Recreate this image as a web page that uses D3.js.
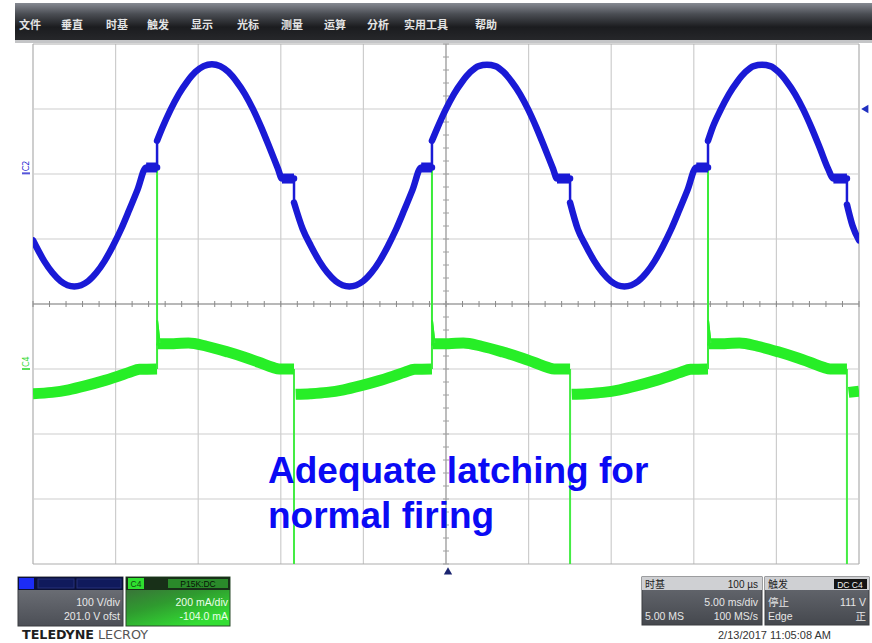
<!DOCTYPE html>
<html>
<head>
<meta charset="utf-8">
<script src="https://cdn.jsdelivr.net/npm/d3@7"></script>
<style>
  html, body { margin: 0; padding: 0; background: #ffffff; }
  svg { display: block; }
</style>
</head>
<body>
<svg id="scope" width="872" height="643"></svg>
<script>
// ---------- menu ----------
const menuItems = ["文件", "垂直", "时基", "触发", "显示", "光标", "测量", "运算", "分析", "实用工具", "帮助"];
const menuX = [30, 72, 117, 158, 202, 248, 292, 335, 378, 426, 486];

// ---------- timebase / channels ----------
const timeDomain = [-25, 25];                 // ms (5 ms/div, 10 div)
const timeDivTicks = d3.range(-25, 25.01, 5);
const timeMinorTicks = d3.range(-25, 25.01, 1);
const vertDivTicks = d3.range(-4, 4.01, 1);
const vertMinorTicks = d3.range(-4, 4.01, 0.2);

const c2VoltsPerDiv = 100;   // V/div
const c2Offset = 201;        // V
const c4MilliampPerDiv = 200; // mA/div
const c4ZeroDiv = -1.0;      // zero level of C4, in divisions from centre

// C2 line voltage (V): segments between the abrupt steps, [time ms, volts]
const c2Segments = [
  [[-25, -103], [-24.32, -135], [-23.82, -153], [-23.32, -166], [-22.5, -174], [-21.67, -166],
   [-21.17, -153], [-20.67, -135], [-20.17, -112], [-19.67, -86], [-19.17, -56], [-18.67, -25],
   [-18.15, 9], [-17.49, 9]],
  [[-17.49, 50], [-17.17, 70], [-16.67, 98], [-16.17, 122], [-15.67, 141], [-15.17, 156],
   [-14.67, 165], [-14.17, 168], [-13.67, 165], [-13.17, 156], [-12.67, 141], [-12.17, 122],
   [-11.67, 98], [-11.17, 70], [-10.67, 39], [-10.17, 7], [-9.93, -8], [-9.20, -8]],
  [[-9.20, -45], [-8.67, -86], [-8.17, -112], [-7.67, -135], [-7.17, -153], [-6.67, -166],
   [-5.85, -174], [-5.02, -166], [-4.52, -153], [-4.02, -135], [-3.52, -112], [-3.02, -86],
   [-2.52, -56], [-2.02, -25], [-1.50, 9], [-0.85, 9]],
  [[-0.85, 50], [-0.52, 70], [-0.02, 98], [0.48, 122], [0.98, 141], [1.48, 156], [1.98, 165],
   [2.48, 167], [2.98, 165], [3.48, 156], [3.98, 141], [4.48, 122], [4.98, 98], [5.48, 70],
   [5.98, 39], [6.48, 7], [6.72, -8], [7.51, -8]],
  [[7.51, -45], [7.98, -86], [8.48, -112], [8.98, -135], [9.48, -153], [9.98, -166],
   [10.80, -174], [11.63, -166], [12.13, -153], [12.63, -135], [13.13, -112], [13.63, -86],
   [14.13, -56], [14.63, -25], [15.15, 9], [15.86, 9]],
  [[15.86, 50], [16.13, 70], [16.63, 98], [17.13, 122], [17.63, 141], [18.13, 156],
   [18.63, 165], [19.13, 167], [19.63, 165], [20.13, 156], [20.63, 141], [21.13, 122],
   [21.63, 98], [22.13, 70], [22.63, 39], [23.13, 7], [23.45, -8], [24.27, -8]],
  [[24.27, -48], [24.6, -80], [25, -103]]
];

// C4 gate current (mA): noisy bands between the edges, [time ms, mA]
const c4Bands = [
  [[-25, -76], [-23.85, -72], [-22.85, -64], [-21.85, -52], [-20.85, -38], [-19.85, -22],
   [-19.15, -10], [-18.55, -1], [-17.49, 0]],
  [[-17.45, 78], [-16.49, 78], [-15.59, 80], [-14.49, 70], [-13.19, 52],
   [-12.19, 36], [-11.29, 20], [-10.49, 5], [-10.09, 0], [-9.20, 0]],
  [[-9.10, -78], [-8.20, -76], [-7.20, -72], [-6.20, -64], [-5.20, -52], [-4.20, -38],
   [-3.20, -22], [-2.50, -10], [-1.90, -1], [-0.85, 0]],
  [[-0.81, 78], [0.15, 78], [1.05, 80], [2.15, 70], [3.45, 52], [4.45, 36],
   [5.35, 20], [6.15, 5], [6.55, 0], [7.51, 0]],
  [[7.61, -78], [8.51, -76], [9.51, -72], [10.51, -64], [11.51, -52], [12.51, -38],
   [13.51, -22], [14.21, -10], [14.81, -1], [15.86, 0]],
  [[15.90, 78], [16.86, 78], [17.76, 80], [18.86, 70], [20.16, 52], [21.16, 36],
   [22.06, 20], [22.86, 5], [23.26, 0], [24.27, 0]],
  [[24.37, -72], [25, -68]]
];
// firing pulses: time ms, peak mA, tail mA just after the edge
const c4Spikes = [[-17.49, 640, 150], [-0.85, 680, 150], [15.86, 630, 150]];
// turn-off edges: time ms, low mA
const c4Drops = [[-9.20, -760], [7.51, -760], [24.27, -760]];

// ---------- readout boxes ----------
const c2Readout = ["100 V/div", "201.0 V ofst"];
const c4Readout = ["200 mA/div", "-104.0 mA"];
const c4Header = "P15K:DC";
const timebaseHeader = ["时基", "100 µs"];
const timebaseRows = [["", "5.00 ms/div"], ["5.00 MS", "100 MS/s"]];
const triggerHeader = ["触发", "DC C4"];
const triggerRows = [["停止", "111 V"], ["Edge", "正"]];
const stampText = "2/13/2017 11:05:08 AM";

// ---------- layout ----------
const plot = { left: 33, right: 859, top: 44, bottom: 564 };
const svg = d3.select("#scope");
const defs = svg.append("defs");

const x = d3.scaleLinear().domain(timeDomain).range([plot.left, plot.right]);
const yDiv = d3.scaleLinear().domain([-4, 4]).range([plot.bottom, plot.top]);
const yC2 = d3.scaleLinear()
  .domain([-4 * c2VoltsPerDiv - c2Offset, 4 * c2VoltsPerDiv - c2Offset])
  .range([plot.bottom, plot.top]);
const yC4 = d3.scaleLinear()
  .domain([(-4 - c4ZeroDiv) * c4MilliampPerDiv, (4 - c4ZeroDiv) * c4MilliampPerDiv])
  .range([plot.bottom, plot.top]);

// gradients
function vGrad(id, stops, x2 = "0", y2 = "1") {
  const g = defs.append("linearGradient").attr("id", id)
    .attr("x1", 0).attr("y1", 0).attr("x2", x2).attr("y2", y2);
  stops.forEach(([o, c]) => g.append("stop").attr("offset", o).attr("stop-color", c));
}
vGrad("menuGrad", [[0, "#868a92"], [0.3, "#4a4d53"], [0.65, "#1b1c1f"], [1, "#26272a"]]);
vGrad("grayBody", [[0, "#74777e"], [1, "#4c4f56"]]);
vGrad("greenBody", [[0, "#3e5f3e"], [0.55, "#2f9b2f"], [1, "#33de33"]], "0.6", "1");
vGrad("readBody", [[0, "#6a6d74"], [1, "#45484e"]]);

// ---------- menu bar ----------
svg.append("rect").attr("x", 15).attr("y", 3).attr("width", 857).attr("height", 37)
  .attr("fill", "url(#menuGrad)");
svg.append("rect").attr("x", 15).attr("y", 40).attr("width", 857).attr("height", 3)
  .attr("fill", "#c4c5c7");
svg.append("g").selectAll("text").data(menuItems).join("text")
  .attr("x", (d, i) => menuX[i]).attr("y", 29)
  .attr("text-anchor", "middle")
  .attr("font-family", "'Noto Sans CJK SC', sans-serif")
  .attr("font-size", 11).attr("font-weight", 700)
  .attr("fill", "#e4e4e4")
  .text(d => d);

// ---------- graticule ----------
const grid = svg.append("g");
grid.selectAll("line.v").data(timeDivTicks).join("line")
  .attr("x1", d => x(d)).attr("x2", d => x(d))
  .attr("y1", plot.top).attr("y2", plot.bottom)
  .attr("stroke", d => (d === -25 || d === 25) ? "#aeaeae" : "#cdcdcd")
  .attr("stroke-width", 1.2);
grid.selectAll("line.h").data(vertDivTicks).join("line")
  .attr("x1", plot.left).attr("x2", plot.right)
  .attr("y1", d => yDiv(d)).attr("y2", d => yDiv(d))
  .attr("stroke", d => (d === -4 || d === 4) ? "#aeaeae" : "#cdcdcd")
  .attr("stroke-width", 1.2);
// centre axes
grid.append("line").attr("x1", plot.left).attr("x2", plot.right)
  .attr("y1", yDiv(0)).attr("y2", yDiv(0)).attr("stroke", "#8a8a8a").attr("stroke-width", 1.2);
grid.append("line").attr("x1", x(0)).attr("x2", x(0))
  .attr("y1", plot.top).attr("y2", plot.bottom).attr("stroke", "#a4a4a4").attr("stroke-width", 1.2);
grid.selectAll("line.mt").data(timeMinorTicks).join("line")
  .attr("x1", d => x(d)).attr("x2", d => x(d))
  .attr("y1", yDiv(0) - 3).attr("y2", yDiv(0) + 3)
  .attr("stroke", "#8a8a8a").attr("stroke-width", 1);
grid.selectAll("line.mv").data(vertMinorTicks).join("line")
  .attr("x1", x(0) - 3).attr("x2", x(0) + 3)
  .attr("y1", d => yDiv(d)).attr("y2", d => yDiv(d))
  .attr("stroke", "#a0a0a0").attr("stroke-width", 1);

// ---------- traces ----------
defs.append("clipPath").attr("id", "plotClip").append("rect")
  .attr("x", plot.left).attr("y", plot.top)
  .attr("width", plot.right - plot.left).attr("height", plot.bottom - plot.top);
const traces = svg.append("g").attr("clip-path", "url(#plotClip)");

const c2Color = "#1a1ad6";
const c4Color = "#27ee27";

// C4 current
const c4Line = d3.line().x(d => x(d[0])).y(d => yC4(d[1])).curve(d3.curveMonotoneX);
const c4g = traces.append("g");
c4g.selectAll("line.drop").data(c4Drops).join("line")
  .attr("x1", d => x(d[0])).attr("x2", d => x(d[0]))
  .attr("y1", yC4(0)).attr("y2", d => yC4(d[1]))
  .attr("stroke", "#44ec44").attr("stroke-width", 2);
c4g.selectAll("path.band").data(c4Bands).join("path")
  .attr("d", c4Line).attr("fill", "none")
  .attr("stroke", c4Color).attr("stroke-width", 11)
  .attr("stroke-linecap", "butt").attr("stroke-linejoin", "round");
// firing edge: thin needle up to the peak, then a short decaying tail into the band
c4g.selectAll("path.spike").data(c4Spikes).join("path")
  .attr("d", d => d3.line()([
    [x(d[0]), yC4(0)], [x(d[0]), yC4(d[1])], [x(d[0]), yC4(d[2])], [x(d[0]) + 2.5, yC4(80)]
  ]))
  .attr("fill", "none").attr("stroke", "#3aec3a").attr("stroke-width", 2);
c4g.selectAll("path.tail").data(c4Spikes).join("path")
  .attr("d", d => d3.line()([
    [x(d[0]), yC4(d[2])], [x(d[0]) + 2, yC4(95)], [x(d[0]), yC4(72)]
  ]))
  .attr("fill", c4Color).attr("stroke", c4Color).attr("stroke-width", 2);

// C2 voltage
const c2Line = d3.line().x(d => x(d[0])).y(d => yC2(d[1])).curve(d3.curveMonotoneX);
const c2g = traces.append("g");
const c2Jumps = d3.pairs(c2Segments).map(([a, b]) => [a[a.length - 1], b[0]]);
c2g.selectAll("line.jump").data(c2Jumps).join("line")
  .attr("x1", d => x(d[0][0])).attr("x2", d => x(d[1][0]))
  .attr("y1", d => yC2(d[0][1])).attr("y2", d => yC2(d[1][1]))
  .attr("stroke", c2Color).attr("stroke-width", 2.5);
c2g.selectAll("path.seg").data(c2Segments).join("path")
  .attr("d", c2Line).attr("fill", "none")
  .attr("stroke", c2Color).attr("stroke-width", 6.5)
  .attr("stroke-linecap", "round").attr("stroke-linejoin", "round");
// clamped plateaus show a wider noise band
const c2Flats = c2Segments.flatMap(s => d3.pairs(s).filter(([a, b]) => a[1] === b[1]));
c2g.selectAll("line.flat").data(c2Flats).join("line")
  .attr("x1", d => x(d[0][0])).attr("x2", d => x(d[1][0]))
  .attr("y1", d => yC2(d[0][1])).attr("y2", d => yC2(d[1][1]))
  .attr("stroke", c2Color).attr("stroke-width", 10);

// ---------- channel markers ----------
function channelMarker(label, yPos, color) {
  const g = svg.append("g");
  g.append("text")
    .attr("transform", `translate(29,${yPos - 2}) rotate(-90)`)
    .attr("font-family", "'DejaVu Sans', sans-serif").attr("font-size", 8)
    .attr("fill", color).text(label);
  g.append("rect").attr("x", 22).attr("y", yPos - 1).attr("width", 8).attr("height", 2)
    .attr("fill", color).attr("opacity", 0.8);
}
channelMarker("C2", yC2(0), "#2a2ad0");
channelMarker("C4", yC4(0), "#30d830");

// trigger level and position markers
svg.append("path")
  .attr("d", d3.symbol().type(d3.symbolTriangle).size(30))
  .attr("transform", `translate(866,${yDiv(3.0)}) rotate(-90)`)
  .attr("fill", "#2030c0");
svg.append("path")
  .attr("d", d3.symbol().type(d3.symbolTriangle).size(30))
  .attr("transform", `translate(${x(0) + 2},572)`)
  .attr("fill", "#1a2470");

// ---------- annotation ----------
const note = svg.append("text")
  .attr("font-family", "'Liberation Sans', Arial, sans-serif")
  .attr("font-weight", 700).attr("font-size", 37).attr("fill", "#0a0af4");
note.append("tspan").attr("x", 268).attr("y", 483).text("Adequate latching for");
note.append("tspan").attr("x", 268).attr("y", 528).text("normal firing");

// ---------- readout boxes ----------
const uiFont = "'Liberation Sans', Arial, sans-serif";
function txt(g, xx, yy, s, anchor, color, size = 10.5, family = uiFont) {
  return g.append("text").attr("x", xx).attr("y", yy).attr("text-anchor", anchor)
    .attr("font-family", family).attr("font-size", size).attr("fill", color).text(s);
}

// C2 box
const b2 = svg.append("g");
b2.append("rect").attr("x", 18).attr("y", 577).attr("width", 105).attr("height", 49)
  .attr("fill", "url(#grayBody)").attr("stroke", "#3a3c40");
b2.append("rect").attr("x", 18).attr("y", 577).attr("width", 105).attr("height", 13).attr("fill", "#0b1038");
b2.append("rect").attr("x", 19).attr("y", 578).attr("width", 15).attr("height", 11).attr("fill", "#1c2cf6");
b2.append("rect").attr("x", 38).attr("y", 579).attr("width", 36).attr("height", 9).attr("fill", "#101a5c").attr("stroke", "#26307a");
b2.append("rect").attr("x", 77).attr("y", 579).attr("width", 44).attr("height", 9).attr("fill", "#101a5c").attr("stroke", "#26307a");
txt(b2, 120, 606, c2Readout[0], "end", "#e8e8e8");
txt(b2, 120, 620, c2Readout[1], "end", "#e8e8e8");

// C4 box
const b4 = svg.append("g");
b4.append("rect").attr("x", 126).attr("y", 577).attr("width", 104).attr("height", 49)
  .attr("fill", "url(#greenBody)").attr("stroke", "#2c4a2c");
b4.append("rect").attr("x", 126).attr("y", 577).attr("width", 104).attr("height", 13).attr("fill", "#183018");
b4.append("rect").attr("x", 128).attr("y", 578).attr("width", 16).attr("height", 11).attr("fill", "#2fe02f");
txt(b4, 136, 587, "C4", "middle", "#0f4a0f", 8.5);
b4.append("rect").attr("x", 168).attr("y", 579).attr("width", 60).attr("height", 9).attr("fill", "#2a8a2a");
txt(b4, 198, 587, c4Header, "middle", "#061406", 8.5);
txt(b4, 228, 606, c4Readout[0], "end", "#eaffea");
txt(b4, 228, 620, c4Readout[1], "end", "#eaffea");

// timebase / trigger box
const bt = svg.append("g");
[[642, 120], [765, 104]].forEach(([bx, bw]) => {
  bt.append("rect").attr("x", bx).attr("y", 577).attr("width", bw).attr("height", 48)
    .attr("fill", "url(#readBody)").attr("stroke", "#3a3c40");
  bt.append("rect").attr("x", bx).attr("y", 577).attr("width", bw).attr("height", 13).attr("fill", "#cfd0d3");
});
const cjk = "'Noto Sans CJK SC', sans-serif";
txt(bt, 645, 588, timebaseHeader[0], "start", "#222", 10, cjk);
txt(bt, 758, 588, timebaseHeader[1], "end", "#222", 10);
txt(bt, 768, 588, triggerHeader[0], "start", "#222", 10, cjk);
bt.append("rect").attr("x", 834).attr("y", 579).attr("width", 33).attr("height", 10).attr("fill", "#141414");
txt(bt, 850, 587.5, triggerHeader[1], "middle", "#f0f0f0", 8.5);
txt(bt, 758, 606, timebaseRows[0][1], "end", "#e6e6e6");
txt(bt, 645, 620, timebaseRows[1][0], "start", "#e6e6e6");
txt(bt, 758, 620, timebaseRows[1][1], "end", "#e6e6e6");
txt(bt, 768, 606, triggerRows[0][0], "start", "#e6e6e6", 10.5, cjk);
txt(bt, 866, 606, triggerRows[0][1], "end", "#e6e6e6");
txt(bt, 768, 620, triggerRows[1][0], "start", "#e6e6e6");
txt(bt, 866, 620, triggerRows[1][1], "end", "#e6e6e6", 10.5, cjk);

// brand and time stamp
const brandFont = "'Liberation Sans Narrow', 'DejaVu Sans Condensed', sans-serif";
txt(svg, 22, 639, "TELEDYNE", "start", "#1e1e1e", 13, brandFont)
  .attr("font-weight", 700).attr("textLength", 72).attr("lengthAdjust", "spacingAndGlyphs");
txt(svg, 98, 639, "LECROY", "start", "#555", 13, brandFont)
  .attr("textLength", 50).attr("lengthAdjust", "spacingAndGlyphs");
txt(svg, 718, 639, stampText, "start", "#333", 11);
</script>
</body>
</html>
